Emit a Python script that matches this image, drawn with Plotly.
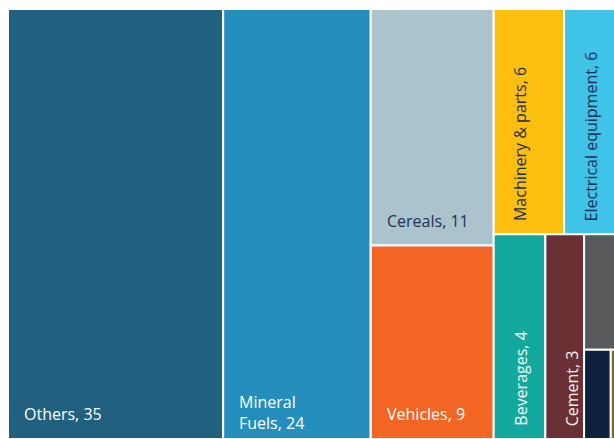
import plotly.graph_objects as go

# Export categories and their shares
labels = ["Others", "Mineral Fuels", "Cereals", "Vehicles", "Machinery & parts",
          "Electrical equipment", "Beverages", "Cement", "", "", ""]
values = [35, 24, 11, 9, 6, 6, 4, 3, 2.2, 0.9, 0.8]
colors = ["#22607f", "#248fbc", "#abc3cc", "#f26522", "#fcbf10",
          "#3fc3e8", "#13a89e", "#6a3033", "#58595b", "#0e213f", "#8a6a2c"]
text_colors = ["#ffffff", "#ffffff", "#1c3152", "#ffffff", "#1c3152",
               "#1c3152", "#f4f8f8", "#f8f2f2", "#ffffff", "#ffffff", "#ffffff"]
# Nesting of each cell for a slice-and-dice layout:
# even depths split left-to-right, odd depths split top-to-bottom.
paths = [(0,), (1,), (2, 0), (2, 1), (3, 0, 0), (3, 0, 1),
         (3, 1, 0), (3, 1, 1), (3, 1, 2, 0), (3, 1, 2, 1, 0), (3, 1, 2, 1, 1)]

FIG_W, FIG_H = 614, 439
MARGIN = dict(l=8, r=0, t=9, b=0)
X_VIEW = [0, 98.57]          # visible part of the value axis
FONT = "Open Sans"
FONT_SIZE = 16
PAD = 14

plot_w = FIG_W - MARGIN["l"] - MARGIN["r"]
plot_h = FIG_H - MARGIN["t"] - MARGIN["b"]
px_x = plot_w / (X_VIEW[1] - X_VIEW[0])
px_y = plot_h / 1.0


def slice_dice(idx, x0, x1, y0, y1, depth, out):
    groups = {}
    for i in idx:
        groups.setdefault(paths[i][depth], []).append(i)
    total = sum(values[i] for i in idx)
    xpos, ypos = x0, y1
    for key in sorted(groups):
        members = groups[key]
        v = sum(values[i] for i in members)
        if depth % 2 == 0:
            nx0, nx1 = xpos, xpos + (x1 - x0) * v / total
            ny0, ny1 = y0, y1
            xpos = nx1
        else:
            nx0, nx1 = x0, x1
            ny0, ny1 = ypos - (y1 - y0) * v / total, ypos
            ypos = ny0
        nx0, nx1, ny0, ny1 = (round(c, 9) for c in (nx0, nx1, ny0, ny1))
        if len(members) == 1 and len(paths[members[0]]) == depth + 1:
            out[members[0]] = (nx0, nx1, ny0, ny1)
        else:
            slice_dice(members, nx0, nx1, ny0, ny1, depth + 1, out)


rects = {}
slice_dice(list(range(len(values))), 0, sum(values), 0, 1, 0, rects)


def text_w(s):
    return len(s) * FONT_SIZE * 0.5


def wrap_label(label, value, avail):
    words = label.split(" ")
    words[-1] = f"{words[-1]}, {value:g}"
    lines, cur = [], ""
    for w in words:
        trial = w if not cur else cur + " " + w
        if text_w(trial) <= avail or not cur:
            cur = trial
        else:
            lines.append(cur)
            cur = w
    lines.append(cur)
    return lines


fig = go.Figure()
annotations = []
for i, lab in enumerate(labels):
    x0, x1, y0, y1 = rects[i]
    fig.add_trace(go.Scatter(
        x=[x0, x1, x1, x0, x0], y=[y0, y0, y1, y1, y0],
        fill="toself", fillcolor=colors[i], mode="lines",
        line=dict(color="white", width=2),
        hoveron="fills", name=lab or "Other", showlegend=False,
    ))
    if not lab:
        continue
    w_px = (x1 - x0) * px_x
    h_px = (y1 - y0) * px_y
    avail = w_px - 2 * PAD
    lines = wrap_label(lab, values[i], avail)
    if all(text_w(l) <= avail for l in lines):
        annotations.append(dict(
            x=x0, y=max(y0, 0), xref="x", yref="y", text="<br>".join(lines),
            xanchor="left", yanchor="middle", align="left",
            xshift=PAD, yshift=25 + 2 * (len(lines) - 1), showarrow=False,
            font=dict(family=FONT, size=FONT_SIZE, color=text_colors[i]),
        ))
    else:
        full = f"{lab}, {values[i]:g}"
        if text_w(full) <= h_px - 2 * PAD:
            annotations.append(dict(
                x=x0, y=max(y0, 0), xref="x", yref="y", text=full, textangle=-90,
                xanchor="center", yanchor="bottom",
                xshift=27, yshift=11, showarrow=False,
                font=dict(family=FONT, size=FONT_SIZE, color=text_colors[i]),
            ))

fig.update_layout(
    width=FIG_W, height=FIG_H, margin=MARGIN,
    paper_bgcolor="white", plot_bgcolor="white",
    xaxis=dict(range=X_VIEW, visible=False, fixedrange=True),
    yaxis=dict(range=[0, 1], visible=False, fixedrange=True),
    annotations=annotations, showlegend=False,
    font=dict(family=FONT),
)
fig.write_html("out.html")
